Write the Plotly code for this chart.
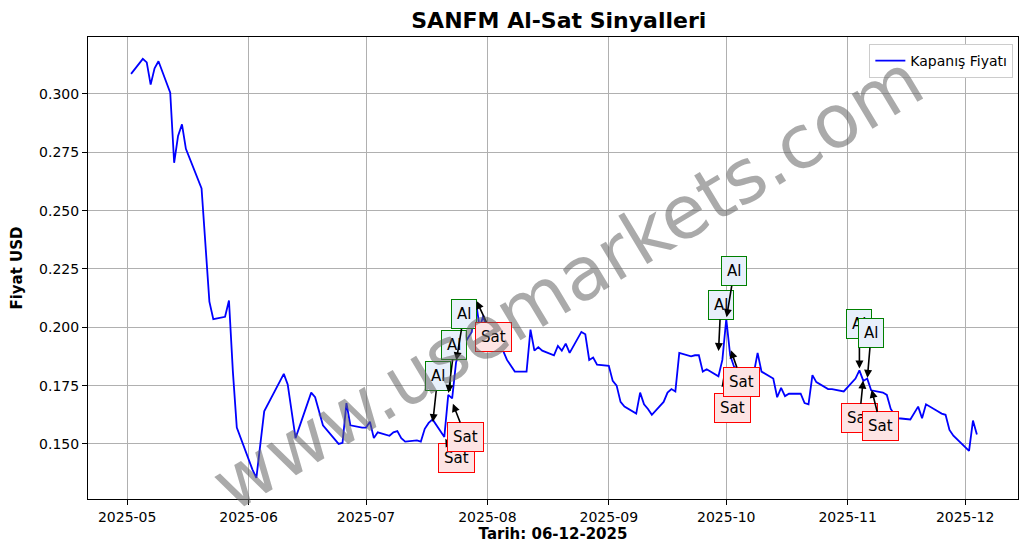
import plotly.graph_objects as go

dates = ["2025-05-02","2025-05-05","2025-05-06","2025-05-07","2025-05-08","2025-05-09","2025-05-12","2025-05-13","2025-05-14","2025-05-15","2025-05-16","2025-05-20","2025-05-22","2025-05-23","2025-05-26","2025-05-27","2025-05-28","2025-05-29","2025-06-02","2025-06-03","2025-06-05","2025-06-10","2025-06-11","2025-06-13","2025-06-17","2025-06-18","2025-06-20","2025-06-24","2025-06-25","2025-06-26","2025-06-27","2025-06-30",
"2025-07-01","2025-07-02","2025-07-03","2025-07-04","2025-07-07","2025-07-08","2025-07-09","2025-07-10","2025-07-11","2025-07-14","2025-07-15","2025-07-16","2025-07-17","2025-07-18","2025-07-21","2025-07-22","2025-07-23","2025-07-24","2025-07-25","2025-07-28","2025-07-29","2025-07-30","2025-07-31",
"2025-08-01","2025-08-04","2025-08-05","2025-08-06","2025-08-07","2025-08-08","2025-08-11","2025-08-12","2025-08-13","2025-08-14","2025-08-15","2025-08-18","2025-08-19","2025-08-20","2025-08-21","2025-08-22","2025-08-25","2025-08-26","2025-08-27","2025-08-28","2025-08-29",
"2025-09-01","2025-09-02","2025-09-03","2025-09-04","2025-09-05","2025-09-08","2025-09-09","2025-09-10","2025-09-11","2025-09-12","2025-09-15","2025-09-16","2025-09-17","2025-09-18","2025-09-19","2025-09-22","2025-09-23","2025-09-24","2025-09-25","2025-09-26","2025-09-29","2025-09-30",
"2025-10-01","2025-10-02","2025-10-03","2025-10-06","2025-10-07","2025-10-08","2025-10-09","2025-10-10","2025-10-13","2025-10-14","2025-10-15","2025-10-16","2025-10-17","2025-10-20","2025-10-21","2025-10-22","2025-10-23","2025-10-24","2025-10-27","2025-10-28","2025-10-31",
"2025-11-03","2025-11-04","2025-11-05","2025-11-06","2025-11-07","2025-11-10","2025-11-11","2025-11-12","2025-11-13","2025-11-14","2025-11-17","2025-11-18","2025-11-19","2025-11-20","2025-11-21","2025-11-24","2025-11-25","2025-11-26","2025-11-27","2025-11-28",
"2025-12-01","2025-12-02","2025-12-03","2025-12-04"]
prices = [0.3086,0.315,0.3135,0.304,0.311,0.314,0.3005,0.2705,0.282,0.287,0.2765,0.2595,0.211,0.2035,0.2045,0.2115,0.181,0.157,0.139,0.1355,0.164,0.180,0.1755,0.1525,0.172,0.170,0.158,0.150,0.1505,0.1675,0.158,0.157,
0.157,0.1595,0.1525,0.155,0.1535,0.155,0.1555,0.1525,0.151,0.1515,0.151,0.1565,0.159,0.1605,0.153,0.171,0.1695,0.185,0.190,0.198,0.212,0.200,0.205,
0.197,0.196,0.190,0.186,0.1835,0.181,0.181,0.199,0.190,0.1915,0.190,0.188,0.192,0.190,0.193,0.189,0.198,0.197,0.186,0.187,0.184,
0.1835,0.177,0.175,0.168,0.166,0.163,0.172,0.167,0.165,0.1625,0.168,0.172,0.1735,0.1725,0.189,0.1875,0.188,0.188,0.181,0.182,0.179,0.186,
0.2035,0.188,0.183,0.181,0.178,0.180,0.189,0.181,0.178,0.170,0.174,0.1705,0.1715,0.1715,0.1675,0.167,0.1795,0.1765,0.1735,0.1735,0.1725,
0.178,0.1815,0.177,0.178,0.173,0.172,0.171,0.165,0.1625,0.161,0.1605,0.1635,0.166,0.161,0.167,0.164,0.163,0.1625,0.156,0.1535,
0.1485,0.147,0.160,0.154]

al_dates = ["2025-07-18","2025-07-22","2025-07-24","2025-09-29","2025-10-01","2025-11-04","2025-11-06"]
al_prices = [0.1585,0.171,0.185,0.189,0.2035,0.1815,0.1775]
al_text_x = ["2025-07-19 08:00","2025-07-23 14:00","2025-07-26","2025-09-29 14:00","2025-10-03","2025-11-04","2025-11-07"]
al_text_y = [0.179,0.1925,0.2055,0.2095,0.224,0.2015,0.1975]
sat_dates = ["2025-07-21","2025-07-23","2025-07-29","2025-09-30","2025-10-02","2025-11-05","2025-11-07"]
sat_prices = [0.153,0.168,0.212,0.179,0.191,0.178,0.174]
sat_text_x = ["2025-07-24","2025-07-26 12:00","2025-08-02 12:00","2025-10-02 12:00","2025-10-05","2025-11-04","2025-11-09 12:00"]
sat_text_y = [0.144,0.153,0.196,0.1655,0.1765,0.161,0.1575]

fig = go.Figure()
fig.add_trace(go.Scatter(x=dates, y=prices, mode="lines", name="Kapanış Fiyatı",
                         line=dict(color="blue", width=1.8)))

def sig(d, p, tx, ty, text, border, fill):
    for a, b, c, e in zip(d, p, tx, ty):
        fig.add_annotation(x=a, y=b, ax=c, ay=e, axref="x", ayref="y", text=text,
                           showarrow=True, arrowhead=2, arrowsize=1, arrowwidth=1.6,
                           arrowcolor="black", bordercolor=border, bgcolor=fill,
                           borderwidth=1, borderpad=5, font=dict(size=15, color="black"),
                           standoff=2)

sig(al_dates, al_prices, al_text_x, al_text_y, "Al", "green", "#e8f0fb")
sig(sat_dates, sat_prices, sat_text_x, sat_text_y, "Sat", "red", "#fde4e4")

fig.add_annotation(x=0.515, y=0.47, xref="paper", yref="paper", text="www.usemarkets.com",
                   showarrow=False, textangle=-31, font=dict(size=74, color="rgba(100,100,100,0.55)"))

ax = dict(showgrid=True, gridcolor="#b0b0b0", showline=True, linecolor="black", mirror=True,
          ticks="outside", tickcolor="black", tickfont=dict(size=14, color="black"),
          zeroline=False, automargin=False)
# page body has an 8px margin, so the figure is shrunk to fit the window
fig.update_layout(
    width=1020, height=546, plot_bgcolor="white", paper_bgcolor="white",
    font=dict(family="DejaVu Sans", color="black"),
    margin=dict(l=80, r=10, t=29, b=55, autoexpand=False),
    title=dict(text="<b>SANFM Al-Sat Sinyalleri</b>", x=0.54, y=0.978, yanchor="middle",
               font=dict(size=22, color="black")),
    xaxis=dict(ax, title=dict(text="<b>Tarih: 06-12-2025</b>", font=dict(size=15, color="black"), standoff=4),
               tickformat="%Y-%m", dtick="M1", range=["2025-04-21", "2025-12-14 12:00"]),
    yaxis=dict(ax, title=dict(text="<b>Fiyat USD</b>", font=dict(size=15, color="black")),
               tickformat=".3f", dtick=0.025, range=[0.1264, 0.3244]),
    legend=dict(x=0.995, y=0.985, xanchor="right", yanchor="top", bordercolor="#ccc",
                borderwidth=1, font=dict(size=14, color="black")),
    showlegend=True,
)
fig.write_html("out.html")
